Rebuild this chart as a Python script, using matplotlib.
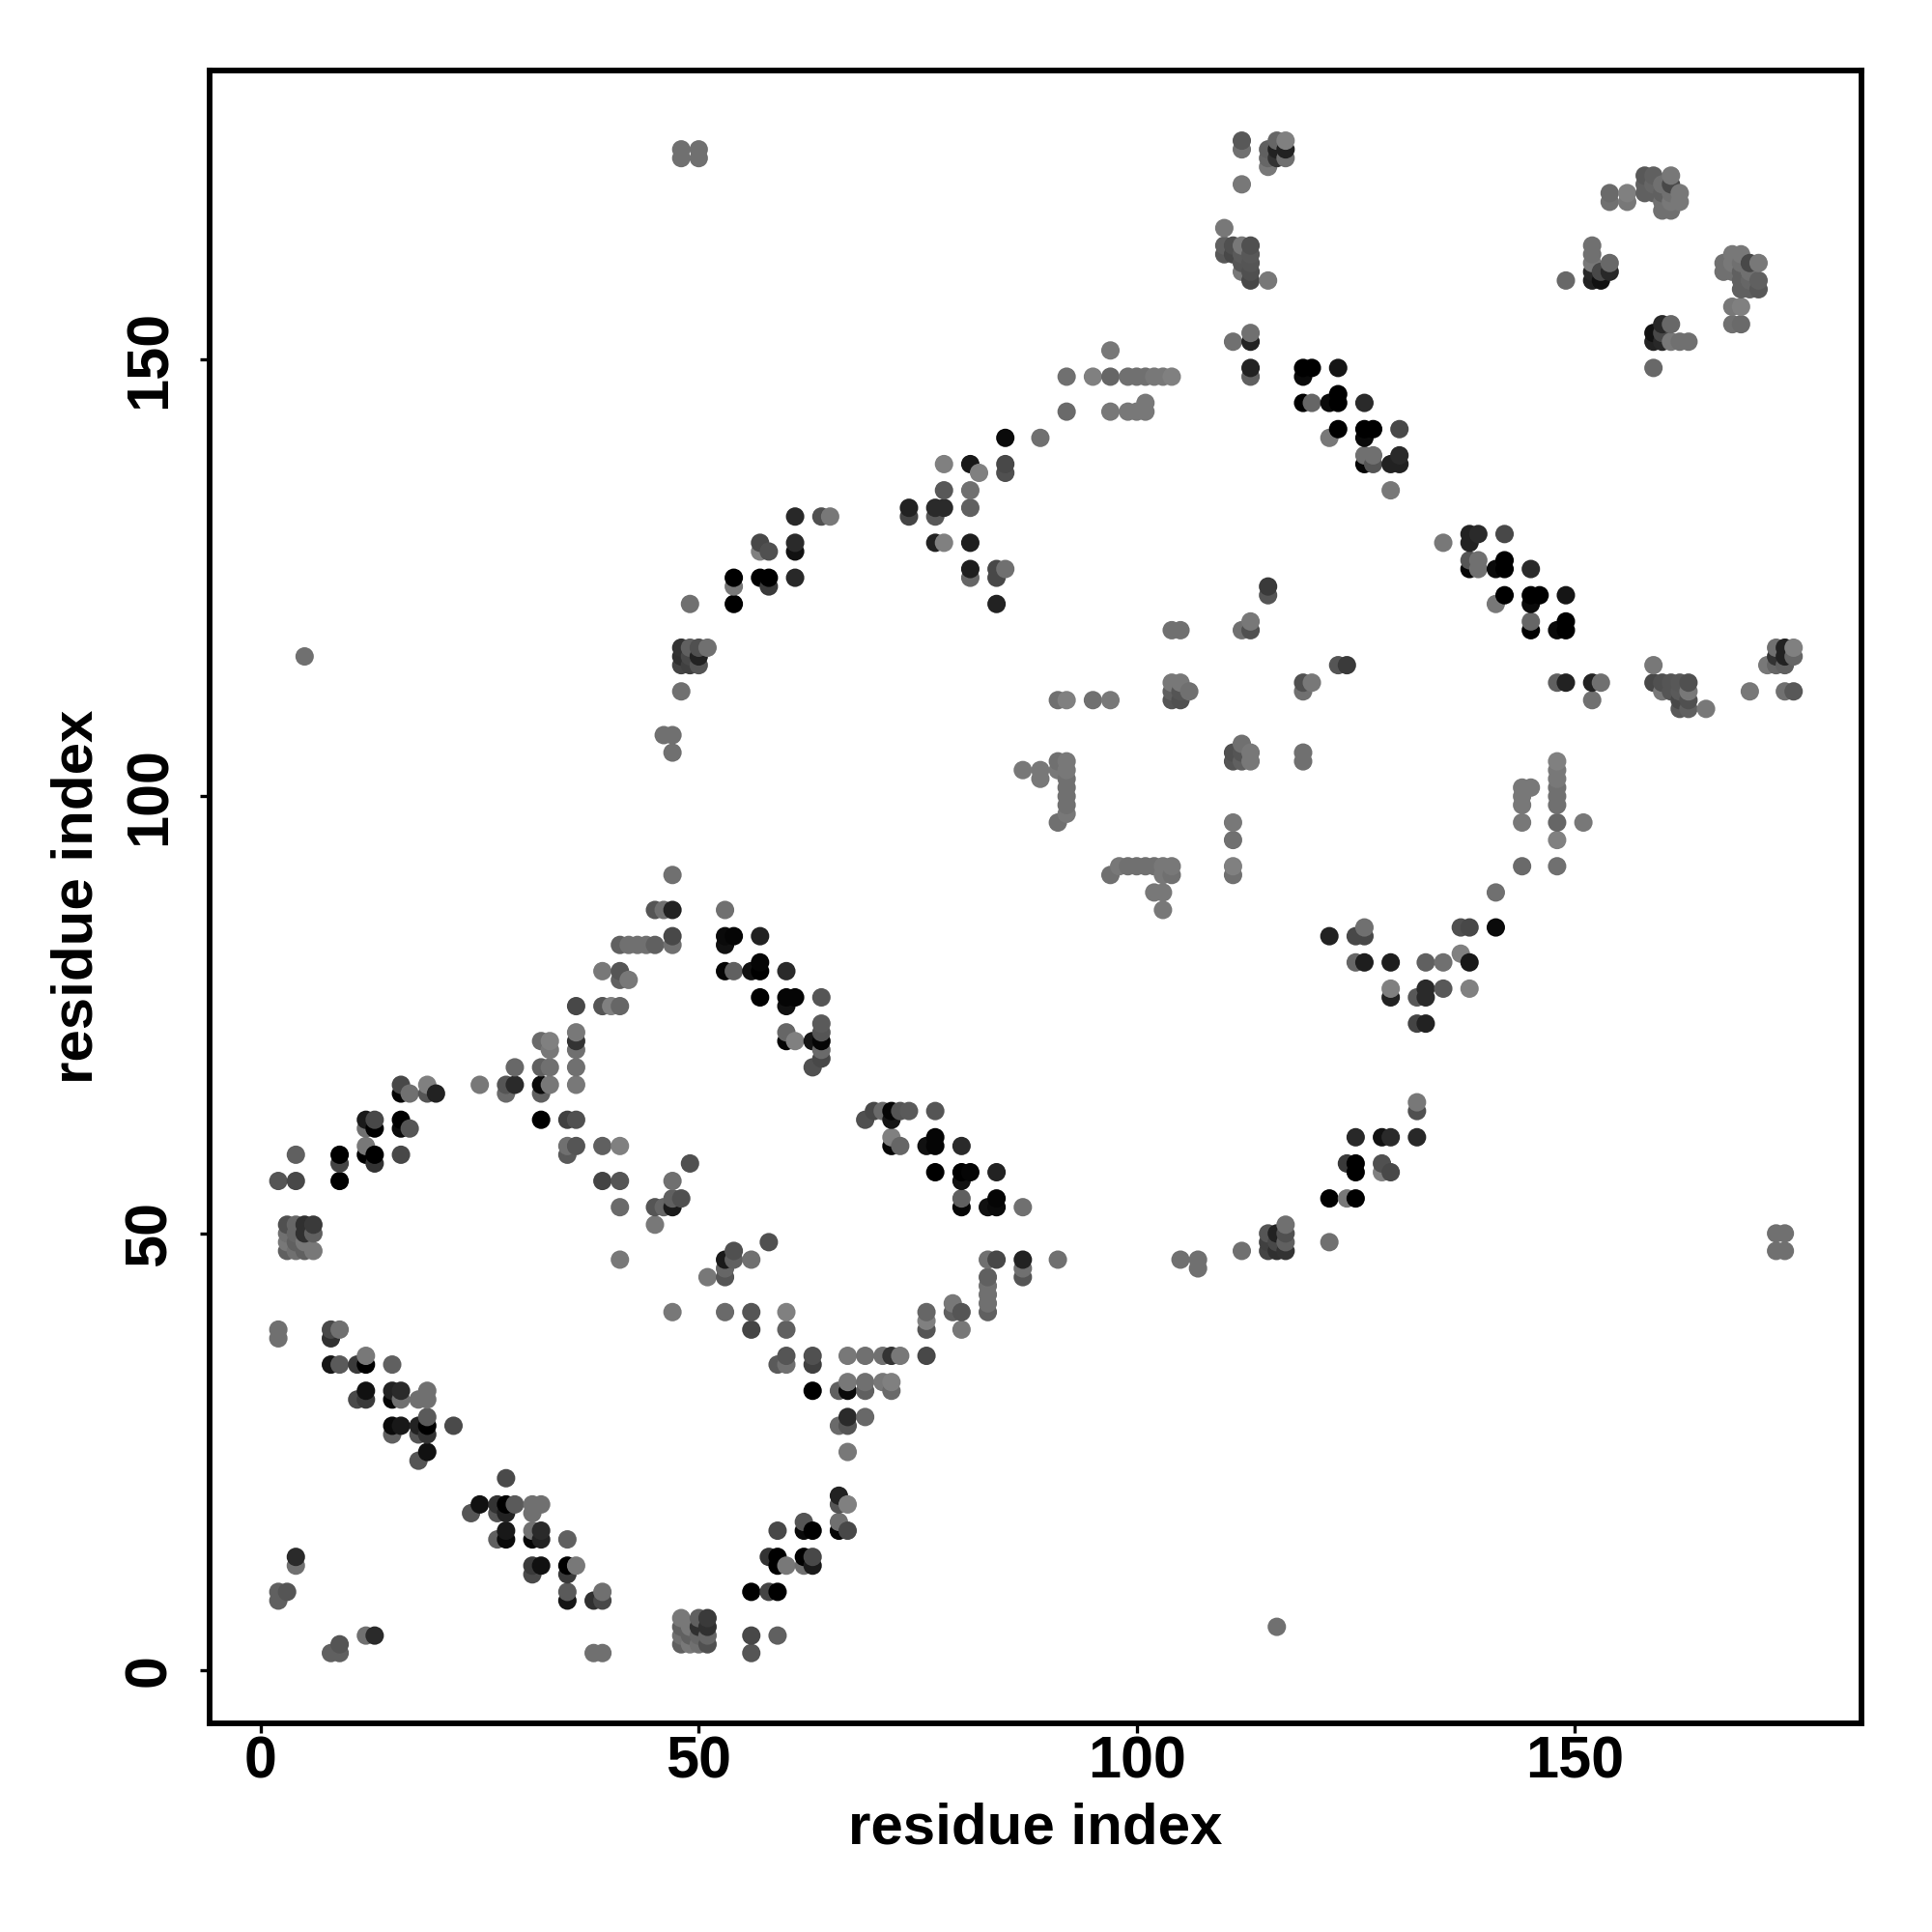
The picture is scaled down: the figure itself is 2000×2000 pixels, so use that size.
import matplotlib
matplotlib.use('Agg')
import matplotlib.pyplot as plt
import numpy as np

# contacts as (residue x, residue y, gray level), x > y side only
# the other triangle is the same map mirrored
near_n_term = [
    (8,2,0x60),(9,2,0x60),(9,3,0x55),(12,4,0x70),(13,4,0x2a),
]
sheet_a = [
    (28,22,0x4a),(25,19,0x11),(27,19,0x33),(28,19,0x00),(29,19,0x5a),(31,19,0x70),(32,19,0x70),
    (24,18,0x55),(27,18,0x55),(28,18,0x22),(31,18,0x70),(28,16,0x18),(31,16,0x70),(32,16,0x2a),
    (27,15,0x60),(28,15,0x0a),(31,15,0x05),(32,15,0x22),(35,15,0x60),(31,12,0x3a),(32,12,0x11),
    (35,12,0x00),(36,12,0x78),(31,11,0x4a),(35,11,0x3a),(35,9,0x5a),(35,8,0x15),(38,8,0x30),
    (39,8,0x48),(39,9,0x70),(38,2,0x70),(39,2,0x70),
]
sheet_b = [
    (53,47,0x1a),(54,47,0x60),(56,47,0x70),(54,48,0x50),(58,49,0x50),(53,46,0x66),(53,45,0x55),
    (51,45,0x78),(47,41,0x78),(53,41,0x6a),(56,41,0x55),(60,41,0x80),(56,39,0x44),(60,39,0x60),
    (60,36,0x55),(63,36,0x50),(67,36,0x78),(69,36,0x70),(71,36,0x70),(72,36,0x33),(73,36,0x78),
    (76,36,0x48),(59,35,0x5a),(60,35,0x70),(63,35,0x40),(63,32,0x00),(66,32,0x60),(67,32,0x0a),
    (69,32,0x60),(72,32,0x6a),(67,33,0x78),(69,33,0x70),(71,33,0x78),(72,33,0x80),(67,29,0x2a),
    (69,29,0x68),(66,28,0x6a),(67,28,0x55),(67,25,0x78),
]
sheet_c = [
    (66,20,0x22),(66,19,0x55),(67,19,0x80),(62,17,0x55),(66,17,0x70),(59,16,0x48),(62,16,0x0a),
    (63,16,0x00),(66,16,0x05),(67,16,0x48),(58,13,0x33),(59,13,0x00),(62,13,0x00),(63,13,0x48),
    (59,12,0x00),(60,12,0x78),(62,12,0x70),(63,12,0x1a),(56,9,0x00),(58,9,0x44),(59,9,0x00),
]
cluster_48_6 = [
    (48,6,0x78),(50,6,0x60),(51,6,0x3a),(48,5,0x60),(49,5,0x78),(50,5,0x30),(51,5,0x30),
    (48,4,0x70),(49,4,0x60),(50,4,0x66),(51,4,0x66),(48,3,0x60),(49,3,0x78),(50,3,0x70),
    (51,3,0x50),(56,4,0x48),(59,4,0x60),(56,2,0x55),
]
sheet_d = [
    (70,64,0x48),(71,64,0x6a),(72,64,0x05),(73,64,0x55),(74,64,0x5a),(77,64,0x55),(69,63,0x50),
    (72,63,0x15),(72,61,0x80),(77,61,0x05),(72,60,0x05),(73,60,0x66),(76,60,0x11),(77,60,0x05),
    (80,60,0x2a),(77,57,0x00),(80,57,0x00),(81,57,0x05),(84,57,0x22),(80,56,0x11),(80,54,0x60),
    (84,54,0x05),(80,53,0x05),(83,53,0x11),(84,53,0x0a),(87,53,0x70),
]
stack_83_87 = [
    (83,47,0x70),(84,47,0x48),(87,47,0x22),(91,47,0x70),(83,45,0x60),(83,44,0x70),(83,43,0x70),
    (83,42,0x70),(83,41,0x60),(87,46,0x70),(87,45,0x55),(76,41,0x66),(79,41,0x60),(80,41,0x55),
    (79,42,0x78),(76,40,0x80),(76,39,0x55),(80,39,0x78),
]
row_92 = [
    (97,91,0x70),(98,92,0x78),(99,92,0x70),(100,92,0x70),(101,92,0x70),(102,92,0x70),(103,92,0x78),
    (104,92,0x78),(103,91,0x78),(104,91,0x70),(102,89,0x78),(103,89,0x78),(103,87,0x78),
    (111,97,0x78),(111,95,0x70),(111,92,0x80),(111,91,0x70),
]
sheet_e = [
    (122,84,0x22),(125,84,0x48),(126,84,0x48),(126,85,0x70),(137,85,0x50),(138,85,0x48),(141,85,0x0a),
    (141,89,0x70),(125,81,0x66),(126,81,0x1e),(129,81,0x1e),(133,81,0x60),(135,81,0x70),(138,81,0x18),
    (137,82,0x80),(129,78,0x80),(133,78,0x2a),(135,78,0x58),(138,78,0x80),(129,77,0x22),(132,77,0x58),
    (133,77,0x2a),(132,74,0x44),(133,74,0x22),
]
col_144_148 = [
    (144,101,0x78),(145,101,0x78),(144,100,0x78),(144,99,0x78),(144,97,0x78),(144,92,0x6a),
    (148,104,0x80),(148,103,0x78),(148,102,0x78),(148,101,0x70),(148,100,0x70),(148,99,0x70),
    (148,97,0x66),(148,95,0x80),(148,92,0x70),(151,97,0x78),
]
sheet_f = [
    (132,65,0x78),(132,64,0x50),(125,61,0x28),(128,61,0x11),(129,61,0x2a),(132,61,0x28),
    (124,58,0x3a),(125,58,0x00),(128,58,0x50),(125,57,0x00),(128,57,0x80),(129,57,0x48),
    (122,54,0x00),(124,54,0x78),(125,54,0x00),
]
cluster_115_48 = [
    (117,51,0x70),(115,50,0x55),(116,50,0x22),(117,50,0x50),(115,49,0x40),(116,49,0x48),(117,49,0x60),
    (122,49,0x70),(115,48,0x44),(116,48,0x30),(117,48,0x33),(112,48,0x70),(105,47,0x70),(107,47,0x70),
    (107,46,0x70),(116,5,0x70),(173,50,0x70),(174,50,0x70),(173,48,0x70),(174,48,0x70),
]
mid_cluster = [
    (123,115,0x55),(124,115,0x3a),(119,113,0x50),(120,113,0x78),(119,112,0x70),(119,104,0x70),
    (119,105,0x70),(112,106,0x70),(111,105,0x50),(112,105,0x55),(113,105,0x78),(111,104,0x55),
    (112,104,0x60),(113,104,0x78),
]
sheet_g = [
    (138,130,0x22),(139,130,0x2a),(142,130,0x48),(135,129,0x78),(138,129,0x22),(138,127,0x55),
    (139,127,0x70),(142,127,0x00),(138,126,0x05),(139,126,0x70),(141,126,0x0a),(142,126,0x00),
    (145,126,0x2a),(142,123,0x00),(145,123,0x00),(146,123,0x00),(149,123,0x15),(141,122,0x78),
    (145,122,0x0a),(145,120,0x66),(149,120,0x00),(145,119,0x00),(148,119,0x0a),(149,119,0x00),
]
row_113 = [
    (148,113,0x60),(149,113,0x22),(152,113,0x22),(153,113,0x70),(152,111,0x70),(159,115,0x78),
    (159,113,0x48),(160,113,0x50),(161,113,0x55),(162,113,0x58),(163,113,0x50),(160,112,0x78),
    (161,112,0x55),(162,112,0x5a),(163,112,0x78),(162,111,0x48),(163,111,0x50),(162,110,0x58),
    (163,110,0x60),(165,110,0x78),
]
far_corner = [
    (173,117,0x70),(174,117,0x22),(175,117,0x80),(173,116,0x33),(174,116,0x22),(175,116,0x66),
    (172,115,0x78),(173,115,0x66),(174,115,0x60),(170,112,0x78),(174,112,0x70),(175,112,0x58),
]
cluster_159 = [
    (160,154,0x28),(161,154,0x68),(159,153,0x11),(160,153,0x48),(159,152,0x22),(160,152,0x28),
    (161,152,0x78),(162,152,0x70),(163,152,0x70),(159,149,0x68),
]
cluster_168 = [
    (168,162,0x78),(169,162,0x78),(167,161,0x70),(168,161,0x78),(169,161,0x70),(170,161,0x48),
    (171,161,0x78),(167,160,0x70),(168,160,0x70),(169,160,0x60),(170,160,0x70),(169,159,0x60),
    (170,159,0x66),(171,159,0x60),(169,158,0x60),(170,158,0x60),(171,158,0x58),(168,156,0x78),
    (169,156,0x80),(168,154,0x70),(169,154,0x6a),
]
groups = [near_n_term, sheet_a, sheet_b, sheet_c, cluster_48_6, sheet_d, stack_83_87, row_92,
          sheet_e, col_144_148, sheet_f, cluster_115_48, mid_cluster, sheet_g, row_113,
          far_corner, cluster_159, cluster_168]

xticks = [0, 50, 100, 150]

pts = np.array([p for g in groups for p in g], dtype=float)
x = np.concatenate([pts[:, 0], pts[:, 1]])
y = np.concatenate([pts[:, 1], pts[:, 0]])
gray = np.concatenate([pts[:, 2], pts[:, 2]]) / 255.0

# later residues are drawn on top
order = np.lexsort((y, x))
x, y, gray = x[order], y[order], gray[order]

plt.rcParams['font.family'] = ['Liberation Sans', 'DejaVu Sans']
plt.rcParams['font.weight'] = 'bold'

fig = plt.figure(figsize=(10, 10), dpi=200)
ax = fig.add_axes([216.5/2000, 1 - 1784/2000, 1710.5/2000, 1711/2000])

ax.scatter(x, y, s=47, c=[(g, g, g) for g in gray], linewidths=0, zorder=3, clip_on=False)

ax.set_xlim(-5.9, 182.75)
ax.set_ylim(-6.04, 183.02)
ax.set_xticks(xticks)
ax.set_yticks(xticks)
ax.tick_params(axis='x', length=3.5, width=1.2, labelsize=22, pad=1)
ax.tick_params(axis='y', length=3.5, width=1.2, labelsize=22, pad=12.8, labelrotation=90)
for lab in ax.get_yticklabels():
    lab.set_rotation_mode('anchor')
    lab.set_ha('center')
    lab.set_va('baseline')

for s in ax.spines.values():
    s.set_linewidth(2.1)

ax.set_xlabel('residue index', fontsize=21.6, fontweight='bold', va='center')
ax.set_ylabel('residue index', fontsize=21.6, fontweight='bold', va='center')
ax.xaxis.set_label_coords(0.5, -0.0635)
ax.yaxis.set_label_coords(-0.080, 0.5)

fig.savefig('out.png', dpi=200, facecolor='white')
